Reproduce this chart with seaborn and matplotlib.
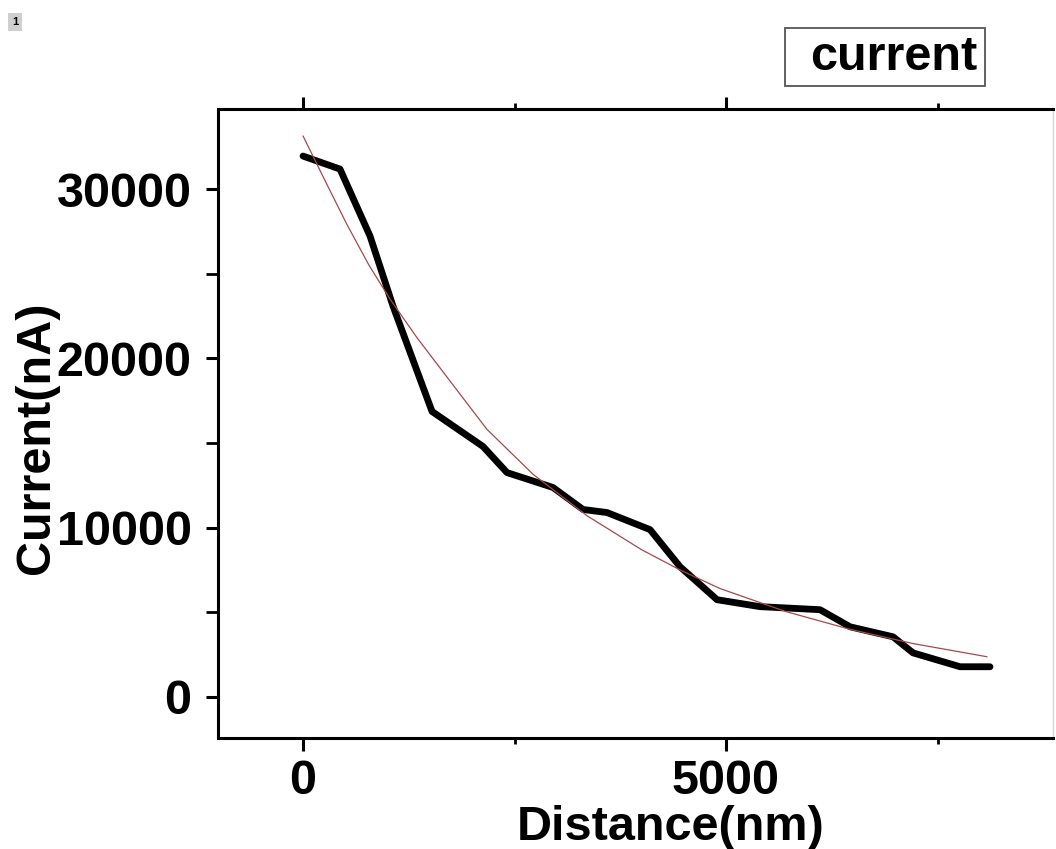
import numpy as np
import pandas as pd
import seaborn as sns
import matplotlib
matplotlib.use("Agg")
import matplotlib.pyplot as plt
from matplotlib.ticker import MultipleLocator
from matplotlib.patches import Rectangle

# ---- data ----
dist_nm = [0, 437, 792, 1064, 1525, 2128, 2411, 2955, 3310, 3593, 4102, 4456,
           4894, 5402, 6111, 6466, 6974, 7210, 7766, 8120]
current_nA = [31950, 31180, 27220, 23080, 16860, 14790, 13250, 12370, 11070, 10890,
              9880, 7690, 5740, 5330, 5150, 4140, 3550, 2600, 1780, 1780]

fit_dist_nm = [0, 260, 520, 780, 1028, 1350, 1655, 2175, 2719, 3357, 4000, 4456,
               4929, 5700, 6466, 7210, 8085]
fit_current_nA = [33140, 30500, 27900, 25500, 23500, 21200, 19200, 15800, 13150,
                  10700, 8700, 7500, 6400, 5050, 3990, 3150, 2370]

legend_label = "current"
x_label = "Distance(nm)"
y_label = "Current(nA)"

sns.set_theme(style="ticks")
plt.rcParams['font.family'] = ['Liberation Sans', 'DejaVu Sans']
plt.rcParams['font.weight'] = 'bold'
plt.rcParams['text.color'] = 'black'
plt.rcParams['axes.labelcolor'] = 'black'
plt.rcParams['xtick.color'] = 'black'
plt.rcParams['ytick.color'] = 'black'

fig = plt.figure(figsize=(10.56, 8.49), dpi=100)
ax = fig.add_axes([218 / 1056, 1 - 738 / 849, (1053 - 218) / 1056, (738 - 109) / 849])

df = pd.DataFrame({"x": dist_nm, "y": current_nA})
dff = pd.DataFrame({"x": fit_dist_nm, "y": fit_current_nA})

sns.lineplot(data=df, x="x", y="y", ax=ax, color="black", linewidth=4.9,
             estimator=None, sort=False, solid_joinstyle="round", solid_capstyle="round")
sns.lineplot(data=dff, x="x", y="y", ax=ax, color="#a84848", linewidth=0.9,
             estimator=None, sort=False)

ax.set_xlim(-1005, 8865)
ax.set_ylim(-2430, 34730)

ax.xaxis.set_major_locator(MultipleLocator(5000))
ax.xaxis.set_minor_locator(MultipleLocator(2500))
ax.yaxis.set_major_locator(MultipleLocator(10000))
ax.yaxis.set_minor_locator(MultipleLocator(5000))

ax.tick_params(axis="both", which="major", labelsize=35, width=2.2, length=9,
               direction="out", color="black", labelcolor="black")
ax.tick_params(axis="x", which="major", top=True, pad=6)
ax.tick_params(axis="y", which="major", pad=10)
ax.tick_params(axis="x", which="minor", top=True, width=2.0, length=4, direction="out")
ax.tick_params(axis="y", which="minor", width=2.0, length=9, direction="out")
for lab in ax.get_xticklabels() + ax.get_yticklabels():
    lab.set_fontweight("bold")

for side in ["left", "bottom", "top"]:
    ax.spines[side].set_linewidth(2.2)
    ax.spines[side].set_color("black")
ax.spines["right"].set_linewidth(1.0)
ax.spines["right"].set_color("#d8d8d8")

ax.set_xlabel(x_label, fontsize=35, fontweight="bold", color="black")
ax.set_ylabel(y_label, fontsize=35, fontweight="bold", color="black")
ax.xaxis.set_label_coords((671 - 218) / 835, -0.106)
ax.yaxis.set_label_coords(-0.19, 0.478)

# legend-like box
fig.patches.append(Rectangle((785 / 1056, 1 - 86 / 849), 200 / 1056, 58 / 849,
                             transform=fig.transFigure, facecolor="white",
                             edgecolor="#555555", linewidth=1.3))
fig.text(894 / 1056, 1 - 58 / 849, legend_label, fontsize=35, fontweight="bold",
         ha="center", va="center", color="black")

fig.text(15 / 1056, 1 - 22 / 849, "1", fontsize=8, fontweight="bold", ha="center",
         va="center", color="black",
         bbox=dict(boxstyle="square,pad=0.35", facecolor="#cfcfcf", edgecolor="none"))

fig.savefig("out.png", dpi=100)
